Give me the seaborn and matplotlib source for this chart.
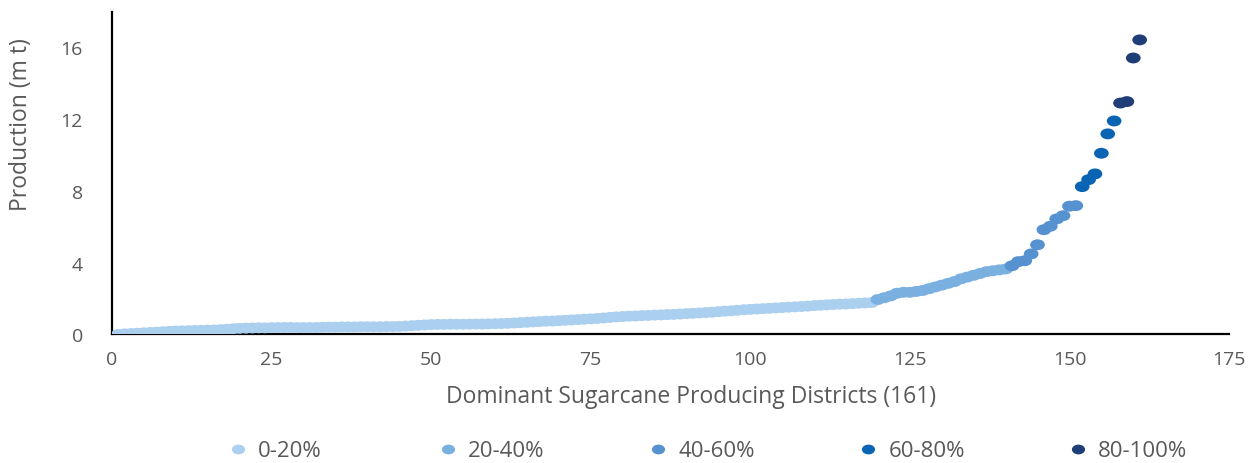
import numpy as np
import pandas as pd
import matplotlib
matplotlib.use('Agg')
import matplotlib.pyplot as plt
import seaborn as sns
from matplotlib.path import Path
from matplotlib.transforms import Affine2D

# Share of district production band -> production (million tonnes), districts ranked
bands = ['0-20%', '20-40%', '40-60%', '60-80%', '80-100%']
colors = ['#abcfee', '#7ab0e0', '#5592cf', '#0a64b4', '#1f3e78']

prod_0_20 = [
    0.00, 0.03, 0.05, 0.07, 0.09, 0.11, 0.13, 0.15, 0.17, 0.19,
    0.20, 0.21, 0.22, 0.23, 0.24, 0.25, 0.27, 0.29, 0.32, 0.34,
    0.35, 0.36, 0.37, 0.37, 0.38, 0.38, 0.39, 0.39, 0.38, 0.38,
    0.38, 0.39, 0.40, 0.41, 0.41, 0.42, 0.42, 0.42, 0.43, 0.43,
    0.43, 0.43, 0.44, 0.44, 0.45, 0.47, 0.49, 0.51, 0.53, 0.55,
    0.56, 0.56, 0.57, 0.57, 0.57, 0.57, 0.58, 0.58, 0.59, 0.60,
    0.61, 0.62, 0.64, 0.66, 0.68, 0.70, 0.72, 0.74, 0.75, 0.77,
    0.79, 0.81, 0.83, 0.85, 0.87, 0.89, 0.92, 0.95, 0.98, 1.00,
    1.02, 1.03, 1.05, 1.06, 1.08, 1.09, 1.11, 1.12, 1.14, 1.16,
    1.18, 1.20, 1.22, 1.24, 1.27, 1.30, 1.32, 1.35, 1.38, 1.40,
    1.42, 1.44, 1.46, 1.48, 1.50, 1.52, 1.54, 1.56, 1.58, 1.61,
    1.63, 1.65, 1.67, 1.69, 1.70, 1.72, 1.74, 1.76, 1.78,
]
prod_20_40 = [1.95, 2.05, 2.15, 2.30, 2.35, 2.35, 2.40, 2.45, 2.55, 2.65,
              2.75, 2.85, 2.95, 3.10, 3.20, 3.30, 3.40, 3.50, 3.55, 3.60, 3.65]
prod_40_60 = [3.83, 4.06, 4.11, 4.49, 5.00, 5.84, 6.03, 6.44, 6.62, 7.15, 7.18]
prod_60_80 = [8.24, 8.63, 8.95, 10.10, 11.18, 11.90]
prod_80_100 = [12.90, 12.98, 15.41, 16.42]

series = [prod_0_20, prod_20_40, prod_40_60, prod_60_80, prod_80_100]
production = [v for s in series for v in s]
band = [b for b, s in zip(bands, series) for _ in s]
df = pd.DataFrame({'district': np.arange(1, len(production) + 1),
                   'production': production, 'band': band})

sns.set_style('white')
plt.rcParams['font.family'] = ['Open Sans', 'DejaVu Sans']
grey = '#595959'

# slightly flattened dots, like the original chart
ellipse = Path.unit_circle().transformed(Affine2D().scale(1.0, 0.74))

fig = plt.figure(figsize=(12.48, 4.64), dpi=100)
ax = fig.add_axes([0.0897, 0.277, 0.8951, 0.696])

sns.scatterplot(data=df, x='district', y='production', hue='band',
                hue_order=bands, palette=colors, s=112, linewidth=0,
                marker=ellipse, ax=ax, legend=False, zorder=3)

ax.set_xlim(0, 175)
ax.set_ylim(0, 18)
ax.set_xticks(range(0, 176, 25))
ax.set_yticks(range(0, 17, 4))
ax.tick_params(length=0, labelsize=14, labelcolor=grey)
ax.tick_params(axis='x', pad=11)
ax.tick_params(axis='y', pad=21)
for side in ['top', 'right']:
    ax.spines[side].set_visible(False)
for side in ['left', 'bottom']:
    ax.spines[side].set_color('black')
    ax.spines[side].set_linewidth(1.6)
ax.set_xlabel('Dominant Sugarcane Producing Districts (161)', fontsize=16.5, color=grey, labelpad=12)
ax.xaxis.label.set_x(0.518)
ax.set_ylabel('Production (m t)', fontsize=16.5, color=grey)
ax.yaxis.set_label_coords(-0.0705, 0.652)

# Excel-style legend with evenly spaced entries
for i, (b, c) in enumerate(zip(bands, colors)):
    h = plt.Line2D([], [], marker=ellipse, linestyle='', markersize=9.5,
                   markerfacecolor=c, markeredgewidth=0)
    fig.legend([h], [b], loc='center left',
               bbox_to_anchor=((231.6 + 210 * i) / 1248, 0.026),
               frameon=False, fontsize=16, labelcolor=grey, borderpad=0,
               borderaxespad=0, handlelength=0.6, handletextpad=0.6)

plt.savefig('out.png', dpi=100)
